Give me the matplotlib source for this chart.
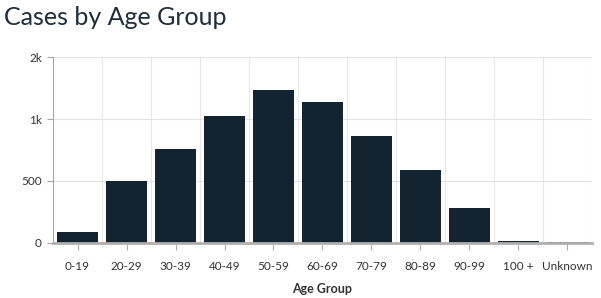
import matplotlib
matplotlib.use("Agg")
import matplotlib.pyplot as plt
from matplotlib.ticker import FixedLocator

categories = ["0-19", "20-29", "30-39", "40-49", "50-59", "60-69", "70-79", "80-89", "90-99", "100 +", "Unknown"]
cases = [90, 500, 756, 1021, 1237, 1141, 860, 588, 283, 18, 5]
ytick_values = [0, 500, 1000, 1500]
ytick_labels = ["0", "500", "1k", "2k"]

plt.rcParams['font.family'] = ['Lato', 'DejaVu Sans']

fig = plt.figure(figsize=(6.01, 2.98), dpi=100)
ax = fig.add_axes([0.0882, 0.1846, 0.8968, 0.6241])

x = list(range(len(categories)))
ax.bar(x, cases, width=0.82, color="#142330", zorder=3)
ax.set_xlim(-0.5, len(categories) - 0.5)
ax.set_ylim(0, 1500)

ax.set_yticks(ytick_values)
ax.set_yticklabels(ytick_labels)
ax.set_xticks(x)
ax.set_xticklabels(categories)
ax.xaxis.set_minor_locator(FixedLocator([i + 0.5 for i in range(-1, len(categories))]))

ax.grid(axis='y', which='major', color="#e3e3e3", linewidth=0.8, zorder=0)
ax.grid(axis='x', which='minor', color="#e8e8e8", linewidth=0.8, zorder=0)
ax.grid(axis='x', which='major', visible=False)

for s in ["top", "right"]:
    ax.spines[s].set_visible(False)
ax.spines["left"].set_color("#a8a8a8")
ax.spines["left"].set_linewidth(0.8)
ax.spines["bottom"].set_color("#b0b0b0")
ax.spines["bottom"].set_linewidth(2)
ax.spines["bottom"].set_zorder(4)

ax.tick_params(axis='x', which='major', length=5, color="#b0b0b0", labelsize=8.5, labelcolor="#333333", pad=8)
ax.tick_params(axis='x', which='minor', length=0)
ax.tick_params(axis='y', length=4, color="#a8a8a8", labelsize=8.5, labelcolor="#333333", pad=4)

ax.set_xlabel("Age Group", fontsize=9, fontweight='bold', color="#333333", labelpad=8)
fig.text(0.006, 0.94, "Cases by Age Group", fontsize=18, color="#1f2d3a", ha='left', va='center')

fig.savefig("out.png", dpi=100)
